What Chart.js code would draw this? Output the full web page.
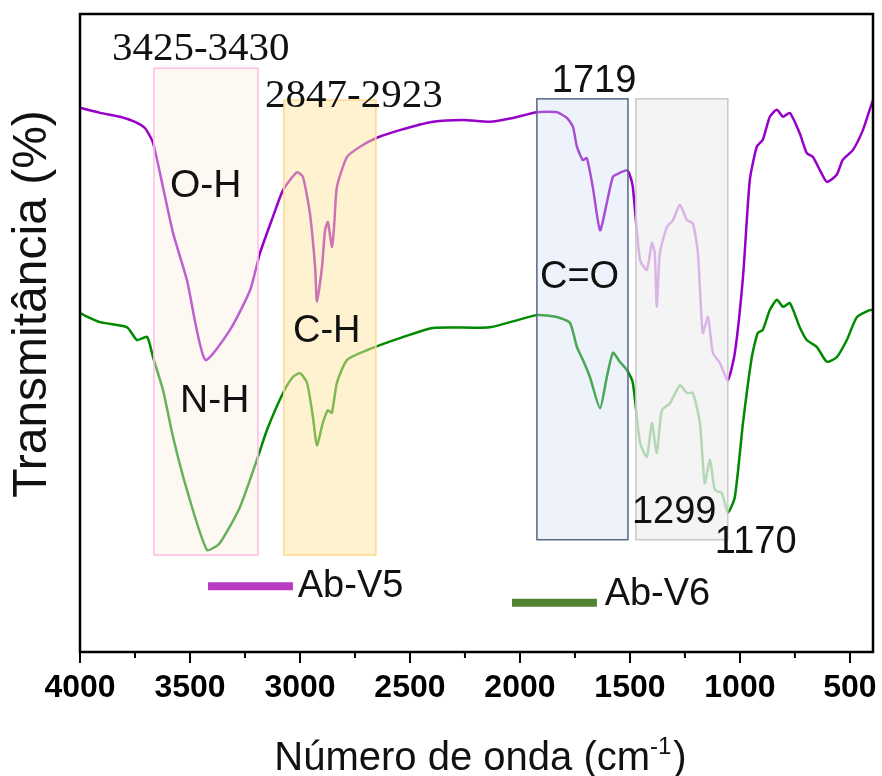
<!DOCTYPE html>
<html>
<head>
<meta charset="utf-8">
<script src="https://cdn.jsdelivr.net/npm/chart.js@4.4.1/dist/chart.umd.min.js"></script>
<style>
  html, body { margin: 0; padding: 0; background: #fff; }
  canvas { display: block; }
</style>
</head>
<body>
<canvas id="myChart" width="882" height="776"></canvas>
<script>
// Espectro Ab-V5: numero de onda (cm-1) y transmitancia (u.a.)
const v5Wavenumber = [4000, 3909, 3818, 3750, 3704, 3668, 3623, 3577, 3514, 3431, 3318, 3227, 3182, 3123, 3077, 3014, 2987, 2955, 2931, 2923, 2900, 2886, 2873, 2855, 2845, 2832, 2786, 2727, 2650, 2546, 2395, 2259, 2137, 2032, 1923, 1832, 1786, 1759, 1741, 1714, 1696, 1669, 1636, 1605, 1577, 1546, 1514, 1501, 1487, 1454, 1423, 1400, 1387, 1378, 1364, 1332, 1304, 1273, 1241, 1214, 1191, 1169, 1145, 1123, 1091, 1055, 1023, 986, 955, 923, 896, 864, 832, 804, 773, 728, 696, 668, 636, 605, 560, 533, 486, 441, 410, 395];
const v5Transmittance = [85.3, 84.5, 83.9, 83.1, 82.1, 79.8, 72.9, 65.7, 58.3, 45.8, 50.5, 56.7, 62.5, 68.2, 72.4, 75.2, 74.5, 68.8, 60.3, 54.9, 60.3, 66.1, 67.4, 63.5, 66.6, 72.9, 77.6, 79.2, 80.6, 81.8, 83.1, 83.4, 83.1, 83.7, 84.6, 84.6, 83.7, 82.3, 79.2, 77.1, 77.4, 72.9, 66.1, 70.4, 74.5, 75.1, 75.5, 74.8, 72.9, 61.4, 59.9, 64.1, 62.5, 54.1, 62.5, 66.6, 67.7, 70.1, 67.7, 67.2, 62.5, 50.0, 52.5, 46.9, 45.3, 42.6, 46.9, 58.8, 74.0, 79.2, 80.3, 83.9, 85.0, 83.9, 84.5, 81.3, 78.2, 77.6, 75.5, 73.7, 74.8, 77.1, 78.7, 81.8, 85.0, 86.5];

// Espectro Ab-V6
const v6Wavenumber = [4000, 3909, 3786, 3741, 3695, 3668, 3623, 3577, 3514, 3423, 3364, 3273, 3196, 3150, 3077, 3032, 3000, 2968, 2941, 2923, 2896, 2873, 2855, 2832, 2786, 2696, 2546, 2395, 2137, 1923, 1832, 1773, 1741, 1714, 1682, 1636, 1605, 1577, 1546, 1514, 1487, 1454, 1423, 1400, 1378, 1355, 1318, 1273, 1241, 1214, 1182, 1160, 1136, 1114, 1082, 1055, 1023, 986, 946, 919, 896, 864, 832, 804, 773, 728, 696, 650, 605, 560, 514, 468, 410, 395];
const v6Transmittance = [53.1, 51.7, 50.9, 48.9, 49.4, 46.2, 41.1, 33.7, 25.4, 16.0, 17.1, 22.7, 30.1, 34.8, 40.6, 43.1, 43.7, 42.2, 36.8, 32.4, 35.9, 37.9, 37.5, 42.2, 45.8, 47.3, 49.2, 50.8, 50.9, 52.8, 52.5, 51.6, 47.8, 45.8, 43.1, 38.2, 43.1, 46.9, 45.5, 44.2, 42.2, 32.8, 30.6, 35.9, 31.2, 37.9, 39.0, 41.8, 40.6, 40.6, 35.9, 26.5, 30.1, 25.4, 24.9, 21.8, 24.3, 35.9, 46.2, 50.0, 50.5, 53.6, 55.2, 54.1, 54.7, 50.9, 48.9, 47.8, 45.5, 46.2, 48.9, 52.5, 53.6, 53.6];

const seriesLabels = ["Ab-V5", "Ab-V6"];
const xTickValues = [4000, 3500, 3000, 2500, 2000, 1500, 1000, 500];
const xMinorTicks = [3750, 3250, 2750, 2250, 1750, 1250, 750];

// Bandas marcadas (cm-1 y transmitancia)
const bandFrom = [3664, 3073, 1923, 1473];
const bandTo = [3191, 2655, 1509, 1055];
const bandTop = [91.5, 86.5, 86.7, 86.7];
const bandBottom = [15.2, 15.2, 17.6, 17.6];

// Etiquetas de los picos
const peakLabels = ["3425-3430", "2847-2923", "1719", "O-H", "N-H", "C-H", "C=O", "1299", "1170"];
const peakLabelX = [3855, 3159, 1855, 3591, 3545, 3032, 1909, 1491, 1114];
const peakLabelY = [92.8, 85.4, 87.8, 71.3, 37.6, 48.6, 57.1, 20.2, 15.5];

// Estilos
const lineColors = ["#9600c8", "#008a00"];
const legendColors = ["#b83cc2", "#508232"];
const bandFill = ["rgba(250,237,222,0.4)", "rgba(255,229,161,0.5)", "rgba(206,221,244,0.35)", "rgba(240,240,240,0.75)"];
const bandStroke = ["#ffbce6", "#ffd88c", "#566684", "#c8c8c8"];
const peakFonts = ["41px 'Liberation Serif'", "41px 'Liberation Serif'", "38px 'Liberation Sans'", "39px 'Liberation Sans'", "39px 'Liberation Sans'", "38px 'Liberation Sans'", "38px 'Liberation Sans'", "38px 'Liberation Sans'", "38px 'Liberation Sans'"];

function toPoints(xs, ys) {
  return xs.map((x, i) => ({ x: x, y: ys[i] }));
}

const overlayPlugin = {
  id: "overlay",
  afterDatasetsDraw(chart) {
    const ctx = chart.ctx;
    const a = chart.chartArea;
    const x = chart.scales.x;
    const y = chart.scales.y;
    ctx.save();

    // Cajas semitransparentes sobre las curvas
    bandFrom.forEach((from, i) => {
      const x1 = x.getPixelForValue(from);
      const x2 = x.getPixelForValue(bandTo[i]);
      const y1 = y.getPixelForValue(bandTop[i]);
      const y2 = y.getPixelForValue(bandBottom[i]);
      ctx.fillStyle = bandFill[i];
      ctx.fillRect(x1, y1, x2 - x1, y2 - y1);
      ctx.strokeStyle = bandStroke[i];
      ctx.lineWidth = 1.5;
      ctx.strokeRect(x1, y1, x2 - x1, y2 - y1);
    });

    // Etiquetas
    ctx.fillStyle = "#111";
    ctx.textAlign = "left";
    ctx.textBaseline = "alphabetic";
    peakLabels.forEach((txt, i) => {
      ctx.font = peakFonts[i];
      ctx.fillText(txt, x.getPixelForValue(peakLabelX[i]), y.getPixelForValue(peakLabelY[i]));
    });

    // Leyenda
    const legX = [[3418, 3032], [2036, 1650]];
    const legY = [10.3, 7.7];
    const legTextX = [3010, 1615];
    const legTextY = [8.6, 7.4];
    chart.data.datasets.forEach((ds, i) => {
      ctx.strokeStyle = legendColors[i];
      ctx.lineWidth = 8;
      ctx.beginPath();
      ctx.moveTo(x.getPixelForValue(legX[i][0]), y.getPixelForValue(legY[i]));
      ctx.lineTo(x.getPixelForValue(legX[i][1]), y.getPixelForValue(legY[i]));
      ctx.stroke();
      ctx.font = "38px 'Liberation Sans'";
      ctx.fillStyle = "#111";
      ctx.fillText(ds.label, x.getPixelForValue(legTextX[i]), y.getPixelForValue(legTextY[i]));
    });

    // Marco
    ctx.strokeStyle = "#000";
    ctx.lineWidth = 2.5;
    ctx.strokeRect(a.left, a.top, a.right - a.left, a.bottom - a.top);

    // Marcas menores
    ctx.lineWidth = 2;
    xMinorTicks.forEach((v) => {
      const px = x.getPixelForValue(v);
      ctx.beginPath();
      ctx.moveTo(px, a.bottom);
      ctx.lineTo(px, a.bottom + 6);
      ctx.stroke();
    });

    // Titulo eje Y
    ctx.fillStyle = "#111";
    ctx.save();
    ctx.translate(33, 304);
    ctx.rotate(-Math.PI / 2);
    ctx.textAlign = "center";
    ctx.textBaseline = "middle";
    ctx.font = "48px 'Liberation Sans'";
    ctx.fillText("Transmitância (%)", 0, 0);
    ctx.restore();

    // Titulo eje X con superindice
    const main = "Número de onda (cm";
    const sup = "-1";
    const close = ")";
    ctx.font = "40px 'Liberation Sans'";
    const wMain = ctx.measureText(main).width;
    const wClose = ctx.measureText(close).width;
    ctx.font = "24px 'Liberation Sans'";
    const wSup = ctx.measureText(sup).width;
    let sx = (a.left + a.right) / 2 + 4 - (wMain + wSup + wClose + 2) / 2;
    const base = 770;
    ctx.textAlign = "left";
    ctx.textBaseline = "alphabetic";
    ctx.font = "40px 'Liberation Sans'";
    ctx.fillText(main, sx, base);
    sx += wMain;
    ctx.font = "24px 'Liberation Sans'";
    ctx.fillText(sup, sx, base - 16);
    sx += wSup + 2;
    ctx.font = "40px 'Liberation Sans'";
    ctx.fillText(close, sx, base);

    ctx.restore();
  }
};

const ctx = document.getElementById("myChart").getContext("2d");
const myChart = new Chart(ctx, {
  type: "line",
  data: {
    datasets: [
      {
        label: seriesLabels[0],
        data: toPoints(v5Wavenumber, v5Transmittance),
        borderColor: lineColors[0],
        borderWidth: 2.5,
        pointRadius: 0,
        tension: 0.2,
        fill: false,
      },
      {
        label: seriesLabels[1],
        data: toPoints(v6Wavenumber, v6Transmittance),
        borderColor: lineColors[1],
        borderWidth: 2.5,
        pointRadius: 0,
        tension: 0.2,
        fill: false,
      },
    ],
  },
  options: {
    responsive: false,
    animation: false,
    layout: { padding: { left: 80, right: 9, top: 14, bottom: 0 } },
    plugins: {
      legend: { display: false },
      tooltip: { enabled: false },
    },
    scales: {
      x: {
        type: "linear",
        reverse: true,
        min: 395,
        max: 4000,
        afterBuildTicks: (scale) => {
          scale.ticks = xTickValues.map((v) => ({ value: v }));
        },
        afterFit: (scale) => {
          scale.height = 124;
          scale.paddingLeft = 0;
          scale.paddingRight = 0;
        },
        border: { display: false },
        grid: {
          drawOnChartArea: false,
          drawTicks: true,
          tickLength: 11,
          tickColor: "#000",
          lineWidth: 2,
        },
        ticks: {
          padding: 6,
          color: "#000",
          maxRotation: 0,
          autoSkip: false,
          font: { family: "'Liberation Sans'", size: 32, weight: "bold" },
          callback: (v) => String(v),
        },
      },
      y: {
        display: false,
        min: 0,
        max: 100,
      },
    },
  },
  plugins: [overlayPlugin],
});
</script>
</body>
</html>
